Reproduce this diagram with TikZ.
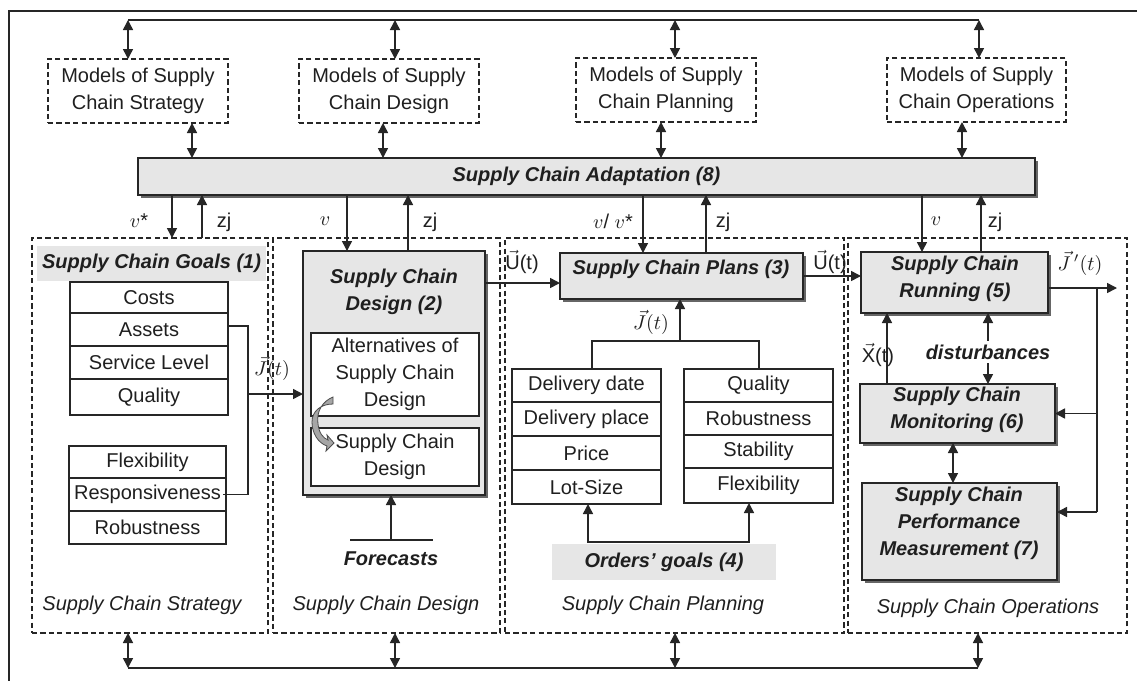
\documentclass[tikz,border=0pt]{standalone}
\usepackage{fontspec}
\setmainfont{Liberation Sans}
\usetikzlibrary{arrows.meta,shadows}
\definecolor{boxgray}{HTML}{E6E6E6}
\newcommand\mybox[7][]{\node[#1, minimum width={(#5-#3)*0.5pt}, minimum height={(#6-#4)*0.5pt}] (#2) at ({(#3+#5)/2},{(#4+#6)/2}) {#7};}
\begin{document}
\begin{tikzpicture}[x=0.5pt,y=-0.5pt,
  font=\fontsize{10}{13.5}\selectfont,
  every node/.style={inner sep=0pt, outer sep=0pt, text=black!88},
  line/.style={draw=black!85, line width=0.75pt},
  arr/.style={line, -{Triangle[length=5pt,width=5pt]}},
  darr/.style={line, {Triangle[length=5pt,width=5pt]}-{Triangle[length=5pt,width=5pt]}},
  model/.style={draw=black!85, line width=0.65pt, dash pattern=on 2.6pt off 1.6pt, align=center},
  phase/.style={draw=black!85, line width=0.65pt, dash pattern=on 2.6pt off 1.6pt},
  gbox/.style={draw=black!85, line width=0.9pt, fill=boxgray, drop shadow={shadow xshift=1.6pt, shadow yshift=-1.6pt, fill=black!60, opacity=1}},
  title/.style={align=center, font=\fontsize{10}{13.5}\selectfont\bfseries\itshape},
  glabel/.style={fill=boxgray, font=\fontsize{10}{13.5}\selectfont\bfseries\itshape},
  cell/.style={draw=black!85, line width=0.65pt, fill=white, align=center},
  plabel/.style={font=\fontsize{10}{13.5}\selectfont\itshape},
  lab/.style={font=\fontsize{10}{12}\selectfont}
]
\fill[white] (0,0) rectangle (1137,681);
\useasboundingbox (0,0) rectangle (1137,681);
% outer frame (clipped by the page)
\draw[line] (1137,11) -- (9,11) -- (9,681);

% phase boxes
\mybox[phase]{p1}{32}{238}{268}{633}{}
\mybox[phase]{p2}{273}{238}{500}{633}{}
\mybox[phase]{p3}{505}{238}{844}{633}{}
\mybox[phase]{p4}{848}{238}{1127}{633}{}
\node[plabel] (p1l) at (142,605) {Supply Chain Strategy};
\node[plabel] (p2l) at (386,605) {Supply Chain Design};
\node[plabel] (p3l) at (663,605) {Supply Chain Planning};
\node[plabel] (p4l) at (988,608) {Supply Chain Operations};

% models
\mybox[model]{m1}{48}{59}{228}{123}{Models of Supply\\Chain Strategy}
\mybox[model]{m2}{299}{59}{479}{123}{Models of Supply\\Chain Design}
\mybox[model]{m3}{576}{58}{756}{122}{Models of Supply\\Chain Planning}
\mybox[model]{m4}{887}{58}{1066}{122}{Models of Supply\\Chain Operations}

% adaptation
\mybox[gbox,title]{ad}{138}{158}{1035}{195}{Supply Chain Adaptation (8)}

% top bus
\coordinate (tb1) at (128,20);
\coordinate (tb2) at (395,20);
\coordinate (tb3) at (675,20);
\coordinate (tb4) at (979,20);
\draw[line] (tb1) -- (tb4);
\draw[darr] (tb1) -- (m1.north -| tb1);
\draw[darr] (tb2) -- (m2.north -| tb2);
\draw[darr] (tb3) -- (m3.north -| tb3);
\draw[darr] (tb4) -- (m4.north -| tb4);

% models <-> adaptation
\coordinate (ma1) at (192,140);
\coordinate (ma2) at (383,140);
\coordinate (ma3) at (661,140);
\coordinate (ma4) at (962,140);
\draw[darr] (m1.south -| ma1) -- (ad.north -| ma1);
\draw[darr] (m2.south -| ma2) -- (ad.north -| ma2);
\draw[darr] (m3.south -| ma3) -- (ad.north -| ma3);
\draw[darr] (m4.south -| ma4) -- (ad.north -| ma4);

% bottom bus
\coordinate (bb1) at (128,668);
\coordinate (bb2) at (395,668);
\coordinate (bb3) at (675,668);
\coordinate (bb4) at (978,668);
\draw[line] (bb1) -- (bb4);
\draw[darr] (p1.south -| bb1) -- (bb1);
\draw[darr] (p2.south -| bb2) -- (bb2);
\draw[darr] (p3.south -| bb3) -- (bb3);
\draw[darr] (p4.south -| bb4) -- (bb4);

% goals
\mybox[glabel]{gl}{37}{246}{266}{281}{Supply Chain Goals (1)}
\mybox[cell]{t1a}{70}{282}{228}{313}{Costs}
\mybox[cell]{t1b}{70}{313}{228}{346}{Assets}
\mybox[cell]{t1c}{70}{346}{228}{379}{Service Level}
\mybox[cell]{t1d}{70}{379}{228}{415}{Quality}
\mybox[cell]{t2a}{69}{446}{226}{478}{Flexibility}
\mybox[cell]{t2b}{69}{478}{226}{511}{Responsiveness}
\mybox[cell]{t2c}{69}{511}{226}{544}{Robustness}

% design
\mybox[gbox]{d}{303}{251}{485}{495}{}
\node[title] (dT) at (394,292) {Supply Chain\\Design (2)};
\mybox[cell]{alt}{311}{333}{479}{416}{Alternatives of\\Supply Chain\\Design}
\mybox[cell]{scd}{311}{428}{479}{486}{Supply Chain\\Design}
\filldraw[fill=black!35, draw=black!70, line width=0.4pt] (333,397) .. controls (323,401) and (316,411) .. (318,424) .. controls (319,433) and (323,438) .. (328,440) -- (327,435) -- (334,443) -- (326,451) -- (327,446) .. controls (318,443) and (312,433) .. (312,422) .. controls (312,411) and (321,404) .. (333,404) -- cycle;
\node[title] (fc) at (391,559) {Forecasts};
\coordinate (fcL) at (350,540);
\coordinate (fcR) at (433,540);
\coordinate (fcM) at (391,540);
\draw[line] (fcL) -- (fcR);
\draw[arr] (fcM) -- (d.south -| fcM);

% plans
\mybox[gbox]{pl}{560}{253}{803}{299}{}
\node[title] (plT) at (681,269) {Supply Chain Plans (3)};
\mybox[cell]{t3a}{512}{369}{661}{402}{Delivery date}
\mybox[cell]{t3b}{512}{402}{661}{436}{Delivery place}
\mybox[cell]{t3c}{512}{436}{661}{470}{Price}
\mybox[cell]{t3d}{512}{470}{661}{504}{Lot-Size}
\mybox[cell]{t4a}{684}{369}{833}{402}{Quality}
\mybox[cell]{t4b}{684}{402}{833}{435}{Robustness}
\mybox[cell]{t4c}{684}{435}{833}{468}{Stability}
\mybox[cell]{t4d}{684}{468}{833}{503}{Flexibility}
\mybox[glabel]{og}{552}{544}{776}{580}{Orders' goals (4)}

% operations
\mybox[gbox]{r}{861}{252}{1048}{313}{}
\node[title] (rT) at (955,279) {Supply Chain\\Running (5)};
\mybox[gbox]{mo}{860}{384}{1055}{443}{}
\node[title] (moT) at (957,410) {Supply Chain\\Monitoring (6)};
\mybox[gbox]{pe}{862}{483}{1057}{580}{}
\node[title] (peT) at (959,523) {Supply Chain\\Performance\\Measurement (7)};
\node[title, inner sep=2pt] (dist) at (988,352) {disturbances};

% adaptation <-> phases
\coordinate (a1) at (172,210);
\coordinate (a2) at (202,210);
\coordinate (a3) at (347,210);
\coordinate (a4) at (408,210);
\coordinate (a5) at (643,210);
\coordinate (a6) at (706,210);
\coordinate (a7) at (922,210);
\coordinate (a8) at (981,210);
\draw[arr] (ad.south -| a1) -- (p1.north -| a1);
\draw[arr] (p1.north -| a2) -- (ad.south -| a2);
\draw[arr] (ad.south -| a3) -- (d.north -| a3);
\draw[arr] (d.north -| a4) -- (ad.south -| a4);
\draw[arr] (ad.south -| a5) -- (pl.north -| a5);
\draw[arr] (pl.north -| a6) -- (ad.south -| a6);
\draw[arr] (ad.south -| a7) -- (r.north -| a7);
\draw[arr] (r.north -| a8) -- (ad.south -| a8);
\node[lab] (l1) at (139,221) {$v$*};
\node[lab] (l2) at (224,222) {zj};
\node[lab] (l3) at (325,221) {$v$};
\node[lab] (l4) at (430,222) {zj};
\node[lab] (l5) at (613,221) {$v$/ $v$*};
\node[lab] (l6) at (723,222) {zj};
\node[lab] (l7) at (936,221) {$v$};
\node[lab] (l8) at (995,222) {zj};

% goals bracket
\coordinate (gb) at (248,326);
\coordinate (gj) at (248,394);
\draw[line] (t1b.east |- gb) -- (gb) -- (gb |- t2b.east) -- ([xshift=-1.5pt]t2b.east);
\draw[arr] (gj) -- (d.west |- gj);
\node[lab] (jl1) at (272,368) {$\vec{J}(t)$};

% design -> plans -> running
\coordinate (u1) at (485,283);
\coordinate (u2) at (803,276);
\draw[arr] (d.east |- u1) -- (pl.west |- u1);
\draw[arr] (u2) -- (r.west |- u2);
\node[lab] (ul1) at (522,262) {$\vec{\mbox{U}}$(t)};
\node[lab] (ul2) at (830,262) {$\vec{\mbox{U}}$(t)};

% plans inputs
\coordinate (jc) at (680,341);
\coordinate (jl) at (592,341);
\coordinate (jr) at (759,341);
\draw[arr] (jc) -- (pl.south -| jc);
\draw[line] (t3a.north -| jl) -- (jl) -- (jr) -- (t4a.north -| jr);
\node[lab] (jl2) at (651,322) {$\vec{J}(t)$};
\coordinate (oL) at (588,542);
\coordinate (oR) at (749,542);
\draw[darr] (t3d.south -| oL) -- (oL) -- (oR) -- (t4d.south -| oR);

% operations connectors
\coordinate (out) at (1117,288);
\coordinate (vj) at (1097,288);
\coordinate (vb) at (1097,512);
\draw[arr] (r.east |- out) -- (out);
\draw[line] (vj) -- (vb);
\draw[arr] (vj |- mo.east) -- (mo.east);
\draw[arr] (vb) -- (pe.east |- vb);
\node[lab] (jl3) at (1080,263) {$\vec{J}\,'(t)$};
\coordinate (xc) at (887,350);
\draw[arr] (mo.north -| xc) -- (r.south -| xc);
\node[lab] (xl) at (878,355) {$\vec{\mbox{X}}$(t)};
\draw[arr] (dist.north) -- (r.south -| dist.north);
\draw[arr] (dist.south) -- (mo.north -| dist.south);
\coordinate (mp) at (953,460);
\draw[darr] (mo.south -| mp) -- (pe.north -| mp);
\end{tikzpicture}
\end{document}
